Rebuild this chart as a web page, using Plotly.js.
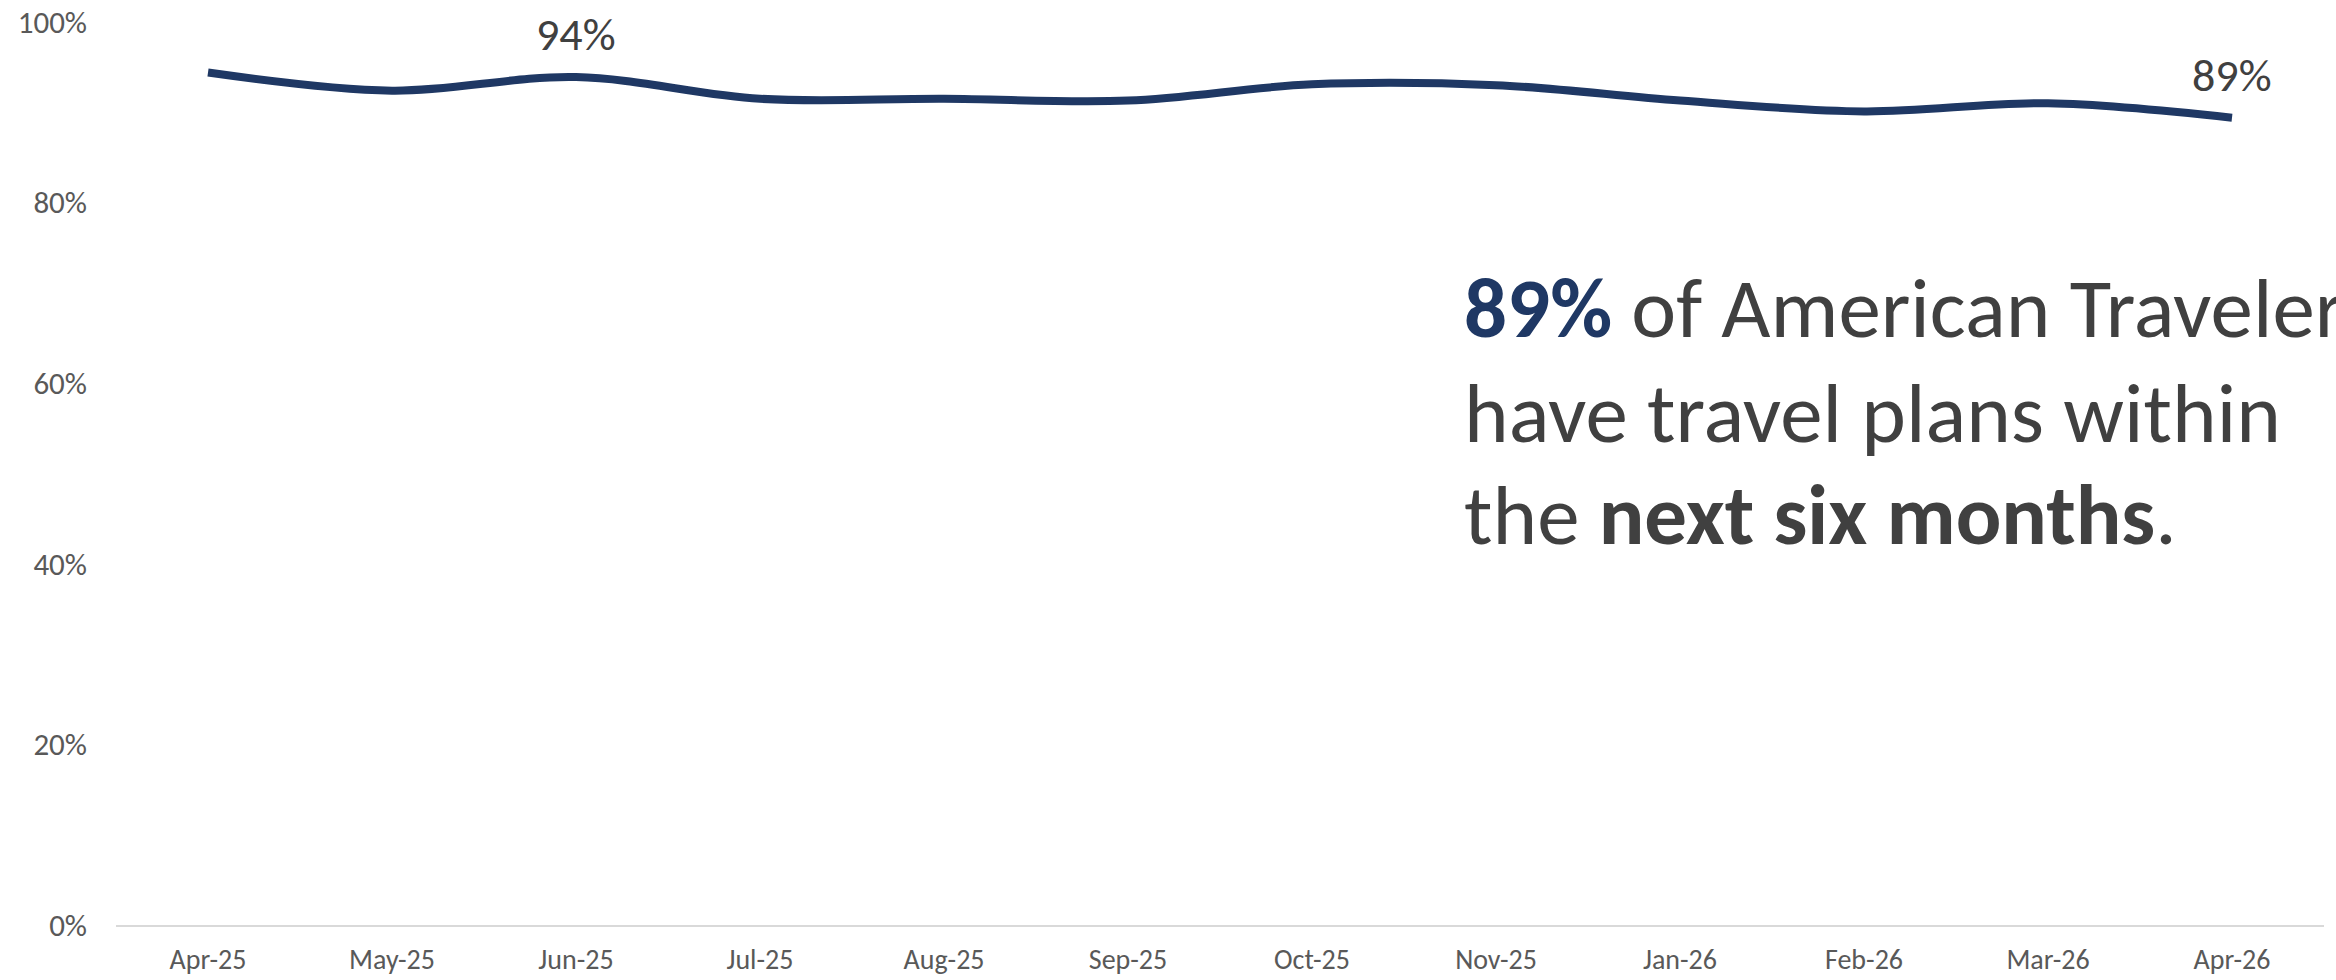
<!DOCTYPE html>
<html>
<head>
<meta charset="utf-8">
<script src="https://cdn.plot.ly/plotly-3.0.1.min.js"></script>
<style>
html,body{margin:0;padding:0;background:#fff;overflow:hidden;}
#chart{width:2336px;height:980px;}
</style>
</head>
<body>
<div id="chart"></div>
<script>
const months = ["Apr-25","May-25","Jun-25","Jul-25","Aug-25","Sep-25","Oct-25","Nov-25","Jan-26","Feb-26","Mar-26","Apr-26"];
const share = [94.4, 92.4, 93.9, 91.5, 91.5, 91.3, 93.1, 93.0, 91.3, 90.1, 91.0, 89.4];
const pointLabels = ["", "", "94%", "", "", "", "", "", "", "", "", "89%"];
const yTicks = [0, 20, 40, 60, 80, 100];
const yTickText = ["0%", "20%", "40%", "60%", "80%", "100%"];
const headline = ["<b><span style=\"color:#1F3864\">89%</span></b> of American Travelers",
                  "have travel plans within",
                  "the <b>next six months</b>."];

const FONT = "Carlito, Calibri, Lato, sans-serif";
const GREY = "#404040";
const TICKGREY = "#595959";

const trace = {
  x: months,
  y: share,
  type: "scatter",
  mode: "lines",
  line: {color: "#1F3864", width: 8, shape: "spline", smoothing: 1},
  cliponaxis: false,
  hoverinfo: "skip"
};

const labelAnns = [];
pointLabels.forEach((t, i) => {
  if (!t) return;
  labelAnns.push({
    xref: "x", yref: "y", x: months[i], y: share[i],
    text: t, showarrow: false, xanchor: "center", yanchor: "middle",
    yshift: 43,
    font: {family: FONT, size: 46, color: GREY}
  });
});

const annYs = [0.683, 0.567, 0.454];
const headAnns = headline.map((t, i) => ({
  xref: "paper", yref: "paper",
  x: 0.6096, y: annYs[i],
  xanchor: "left", yanchor: "middle",
  text: t, showarrow: false, align: "left",
  font: {family: FONT, size: 85, color: GREY}
}));

const layout = {
  width: 2336, height: 980,
  margin: {l: 116, r: 12, t: 22, b: 55},
  paper_bgcolor: "#fff", plot_bgcolor: "#fff",
  showlegend: false,
  xaxis: {
    type: "category",
    range: [-0.5, 11.5],
    showgrid: false, zeroline: false,
    showline: true, linecolor: "#D9D9D9", linewidth: 2,
    ticks: "", ticklabelstandoff: 8,
    tickfont: {family: FONT, size: 28, color: TICKGREY},
    fixedrange: true
  },
  yaxis: {
    range: [0, 100],
    tickvals: yTicks, ticktext: yTickText,
    showgrid: false, zeroline: false, showline: false,
    ticks: "", ticklabelstandoff: 28,
    tickfont: {family: FONT, size: 31, color: TICKGREY},
    fixedrange: true
  },
  annotations: labelAnns.concat(headAnns)
};

Plotly.newPlot("chart", [trace], layout, {displayModeBar: false, staticPlot: true});
</script>
</body>
</html>
